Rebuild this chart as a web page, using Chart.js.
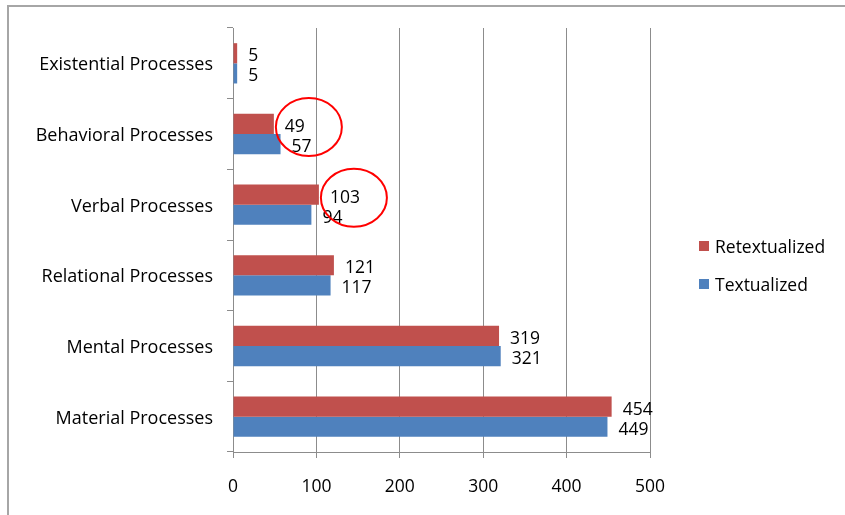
<!DOCTYPE html>
<html>
<head>
<meta charset="utf-8">
<script src="https://cdn.jsdelivr.net/npm/chart.js@4"></script>
<style>
  body { margin: 0; background: #fff; }
  #wrap { position: relative; width: 845px; height: 515px; overflow: hidden; }
  #frame { position: absolute; left: 7px; top: 5px; width: 900px; height: 600px; border: 2px solid #a6a6a6; }
  canvas { position: absolute; left: 0; top: 0; }
</style>
</head>
<body>
<div id="wrap">
  <div id="frame"></div>
  <canvas id="chart" width="845" height="515"></canvas>
</div>
<script>
const categories = ['Existential Processes', 'Behavioral Processes', 'Verbal Processes',
  'Relational Processes', 'Mental Processes', 'Material Processes'];
const retextualized = [5, 49, 103, 121, 319, 454];
const textualized = [5, 57, 94, 117, 321, 449];
const xTicks = [0, 100, 200, 300, 400, 500];
const circled = ['Behavioral Processes', 'Verbal Processes'];

const FONT = '"Open Sans"';
const SIZE = 17.5;
const RED = '#c0504d';
const BLUE = '#4f81bd';
const GRID = '#8c8c8c';

// value labels to the right of each bar
const valueLabels = {
  id: 'valueLabels',
  afterDatasetsDraw(chart) {
    const ctx = chart.ctx;
    ctx.save();
    ctx.font = SIZE + 'px ' + FONT;
    ctx.fillStyle = '#000';
    ctx.textAlign = 'left';
    ctx.textBaseline = 'middle';
    chart.data.datasets.forEach((ds, i) => {
      chart.getDatasetMeta(i).data.forEach((bar, j) => {
        ctx.fillText(ds.data[j], bar.x + 11, bar.y + 3);
      });
    });
    ctx.restore();
  }
};

// red ellipses round some labels
const ellipses = {
  id: 'ellipses',
  afterDraw(chart) {
    const ctx = chart.ctx;
    const x = chart.scales.x, y = chart.scales.y;
    ctx.save();
    ctx.strokeStyle = '#ff0000';
    ctx.lineWidth = 2;
    circled.forEach(name => {
      const j = categories.indexOf(name);
      const cx = x.getPixelForValue(retextualized[j]) + 35;
      const cy = y.getPixelForValue(j) - 7;
      ctx.beginPath();
      ctx.ellipse(cx, cy, 33, 29, 0, 0, Math.PI * 2);
      ctx.stroke();
    });
    ctx.restore();
  }
};

// legend on the right
const sideLegend = {
  id: 'sideLegend',
  afterDraw(chart) {
    const ctx = chart.ctx;
    const left = chart.chartArea.right + 49;
    const mid = (chart.chartArea.top + chart.chartArea.bottom) / 2;
    ctx.save();
    ctx.font = SIZE + 'px ' + FONT;
    ctx.textBaseline = 'middle';
    chart.data.datasets.forEach((ds, i) => {
      const yy = mid + 6 + i * 38;
      ctx.fillStyle = ds.backgroundColor;
      ctx.fillRect(left, yy - 5, 10, 10);
      ctx.fillStyle = '#000';
      ctx.fillText(ds.label, left + 16, yy + 2);
    });
    ctx.restore();
  }
};

new Chart(document.getElementById('chart'), {
  type: 'bar',
  data: {
    labels: categories,
    datasets: [
      { label: 'Retextualized', data: retextualized, backgroundColor: RED },
      { label: 'Textualized', data: textualized, backgroundColor: BLUE }
    ]
  },
  options: {
    indexAxis: 'y',
    responsive: false,
    animation: false,
    devicePixelRatio: 1,
    categoryPercentage: 0.57,
    barPercentage: 1.0,
    layout: { padding: { left: 10, right: 195, top: 28, bottom: 12 } },
    plugins: { legend: { display: false }, tooltip: { enabled: false } },
    scales: {
      x: {
        min: 0, max: 500,
        afterBuildTicks: s => { s.ticks = xTicks.map(v => ({ value: v })); },
        afterFit: s => { s.height = 51; },
        grid: { color: GRID, tickLength: 6 },
        border: { color: GRID },
        ticks: { color: '#000', font: { family: FONT, size: SIZE }, padding: 19 }
      },
      y: {
        afterFit: s => { s.width = 223; },
        grid: { color: GRID, drawOnChartArea: false, tickLength: 6, offset: true },
        border: { color: GRID },
        ticks: { color: '#000', font: { family: FONT, size: 18 }, padding: 14, labelOffset: 2 }
      }
    }
  },
  plugins: [valueLabels, ellipses, sideLegend]
});
</script>
</body>
</html>
